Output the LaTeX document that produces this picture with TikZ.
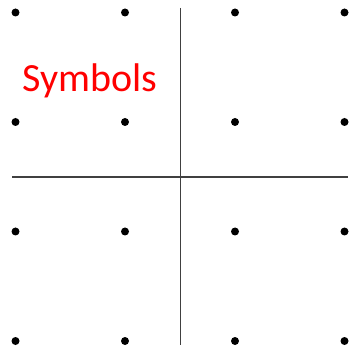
\documentclass[tikz,border=0pt]{standalone}
\usepackage{fontspec}
\setmainfont{Carlito}
\usetikzlibrary{positioning}

\begin{document}
\begin{tikzpicture}[
    x=0.75pt, y=-0.75pt,
    dot/.style={circle, fill=black, inner sep=0pt, minimum size=6pt},
    axis/.style={draw=black!75, line width=0.9pt},
    lbl/.style={text=red, font=\fontsize{30}{36}\selectfont, inner sep=0pt, anchor=base west}
  ]
    \useasboundingbox (0,0) rectangle (360,352);
    % grid of dots
    \foreach \c/\x in {1/15.5, 2/125, 3/235, 4/344.5}
      \foreach \r/\y in {1/12.5, 2/122, 3/231.5, 4/341}
        \node[dot] (d\c\r) at (\x,\y) {};
    % axes
    \coordinate (top) at (180.5,8);
    \coordinate (bottom) at (180.5,345);
    \coordinate (left) at (12,177);
    \coordinate (right) at (348,177);
    \draw[axis] (top) -- (bottom);
    \draw[axis] (left) -- (right);
    % label
    \node[lbl] (sym) at (22,91.5) {Symbols};
  \end{tikzpicture}
\end{document}
